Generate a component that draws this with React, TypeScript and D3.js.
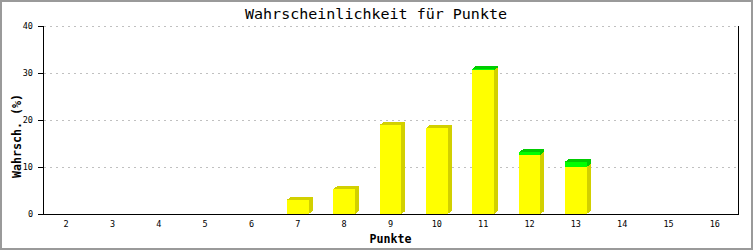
import React from "react";
import * as d3 from "d3";

const categories = ["2", "3", "4", "5", "6", "7", "8", "9", "10", "11", "12", "13", "14", "15", "16"];
const yellowValues = [0, 0, 0, 0, 0, 3.0, 5.3, 18.9, 18.3, 30.6, 12.6, 10.0, 0, 0, 0];
const greenValues = [0, 0, 0, 0, 0, 0, 0, 0, 0, 0.3, 0.5, 1.1, 0, 0, 0];
const yTicks = [0, 10, 20, 30, 40];
const title = "Wahrscheinlichkeit für Punkte";
const yTitle = "Wahrsch. (%)";
const xTitle = "Punkte";

const W = 753;
const H = 250;
const left = 43;
const right = 738;
const top = 26;
const bottom = 214;
const DX = 4;
const DY = 3;
const mono = "'DejaVu Sans Mono', 'Liberation Mono', monospace";

export default function App() {
  const x = d3
    .scaleBand<string>()
    .domain(categories)
    .range([left, right])
    .paddingInner(0.53)
    .paddingOuter(0.265);
  const y = d3.scaleLinear().domain([0, 40]).range([bottom, top]);
  const bw = x.bandwidth();

  const segs: { x0: number; x1: number; yt: number; yb: number; front: string; shade: string; key: string }[] = [];
  categories.forEach((c, i) => {
    const x0 = x(c)!;
    const x1 = x0 + bw;
    const yv = yellowValues[i];
    const gv = greenValues[i];
    if (yv > 0) {
      segs.push({ x0, x1, yt: y(yv), yb: y(0), front: "#ffff00", shade: "#d2d000", key: c + "y" });
    }
    if (gv > 0) {
      segs.push({ x0, x1, yt: y(yv + gv), yb: y(yv), front: "#00ff00", shade: "#00cc00", key: c + "g" });
    }
  });

  return (
    <svg
      width={W}
      height={H}
      style={{ position: "absolute", left: 0, top: 0, display: "block", background: "#fff" }}
    >
      <rect x={0} y={0} width={W} height={H} fill="#fff" />
      <rect x={1} y={1} width={W - 2} height={H - 2} fill="none" stroke="#9a9a9a" strokeWidth={2} />

      {/* grid */}
      {yTicks
        .filter((t) => t > 0)
        .map((t) => (
          <line
            key={"g" + t}
            x1={left + 1}
            x2={right}
            y1={Math.round(y(t)) + 0.5}
            y2={Math.round(y(t)) + 0.5}
            stroke="#c0c0c0"
            strokeDasharray="2,4"
          />
        ))}

      {/* bars */}
      {segs.map((s) => (
        <g key={s.key} shapeRendering="crispEdges">
          <polygon
            points={[
              [s.x0, s.yt],
              [s.x0 + DX, s.yt - DY],
              [s.x1 + DX, s.yt - DY],
              [s.x1 + DX, s.yb - DY],
              [s.x1, s.yb],
            ]
              .map((p) => p.join(","))
              .join(" ")}
            fill={s.shade}
          />
          <rect x={s.x0} y={s.yt} width={s.x1 - s.x0} height={s.yb - s.yt} fill={s.front} />
        </g>
      ))}

      {/* axes */}
      <line x1={left + 0.5} x2={left + 0.5} y1={top} y2={bottom + 0.5} stroke="#000" />
      <line x1={right + 0.5} x2={right + 0.5} y1={top} y2={bottom + 0.5} stroke="#000" />
      <line x1={left} x2={right + 1} y1={bottom + 0.5} y2={bottom + 0.5} stroke="#000" />

      {/* y ticks */}
      {yTicks.map((t) => (
        <g key={"yt" + t}>
          <line
            x1={left - 5}
            x2={left}
            y1={Math.round(y(t)) + 0.5}
            y2={Math.round(y(t)) + 0.5}
            stroke="#000"
          />
          <text
            x={33}
            y={y(t) + 3}
            textAnchor="end"
            fontFamily={mono}
            fontSize={8.5}
            fill="#000"
          >
            {t}
          </text>
        </g>
      ))}

      {/* x labels */}
      {categories.map((c) => (
        <text
          key={"xl" + c}
          x={x(c)! + bw / 2}
          y={227}
          textAnchor="middle"
          fontFamily={mono}
          fontSize={8.5}
          fill="#000"
        >
          {c}
        </text>
      ))}

      {/* titles */}
      <text
        x={376}
        y={18.5}
        textAnchor="middle"
        fontFamily={mono}
        fontSize={14}
        textLength={262}
        lengthAdjust="spacingAndGlyphs"
        fill="#000"
      >
        {title}
      </text>
      <text
        x={(left + right) / 2}
        y={243}
        textAnchor="middle"
        fontFamily={mono}
        fontWeight="bold"
        fontSize={12}
        textLength={42}
        lengthAdjust="spacingAndGlyphs"
        fill="#000"
      >
        {xTitle}
      </text>
      <text
        transform={`translate(21, 136) rotate(-90)`}
        textAnchor="middle"
        fontFamily={mono}
        fontWeight="bold"
        fontSize={12}
        textLength={84}
        lengthAdjust="spacingAndGlyphs"
        fill="#000"
      >
        {yTitle}
      </text>
    </svg>
  );
}
